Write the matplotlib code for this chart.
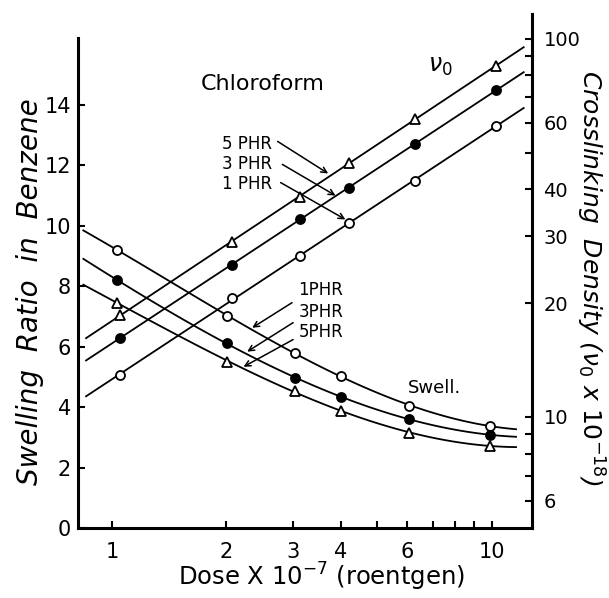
import numpy as np
import matplotlib
matplotlib.use('Agg')
import matplotlib.pyplot as plt
from matplotlib.ticker import NullLocator

# ---- data ----
dose_xl = [1.05, 2.07, 3.12, 4.2, 6.3, 10.3]     # crosslinking points
xl_5phr = [18.6, 29.0, 38.2, 47.0, 61.4, 84.9]  # triangles
xl_3phr = [16.2, 25.2, 33.4, 40.3, 52.7, 73.3]  # filled circles
xl_1phr = [12.9, 20.6, 26.7, 32.6, 42.1, 58.9]  # open circles

dose_sw = [1.03, 2.01, 3.03, 4.0, 6.05, 9.9]     # swelling points
sw_1phr = [9.2, 7.0, 5.8, 5.03, 4.04, 3.38]
sw_3phr = [8.2, 6.1, 4.97, 4.34, 3.61, 3.08]
sw_5phr = [7.45, 5.5, 4.54, 3.87, 3.15, 2.72]

x_ticks = [1, 2, 3, 4, 5, 6, 7, 8, 9, 10]
x_ticklabels = ['1', '2', '3', '4', '', '6', '', '', '', '10']
left_ticks = [0, 2, 4, 6, 8, 10, 12, 14]
right_ticks = [6, 7, 8, 9, 10, 20, 30, 40, 50, 60, 70, 80, 90, 100]
right_ticklabels = ['6', '', '', '', '10', '20', '30', '40', '', '60', '', '', '', '100']

plt.rcParams['font.family'] = 'DejaVu Sans'
fig = plt.figure(figsize=(6.09, 5.98), dpi=100)
ax = fig.add_axes([0.128, 0.117, 0.746, 0.860])
ax2 = ax.twinx()

ax.set_xscale('log')
ax.set_xlim(0.813, 12.8)
ax.set_ylim(0, 17.0)
ax2.set_yscale('log')
ax2.set_ylim(5.085, 116.4)

mk = dict(ms=6.5, mew=1.3, color='k', ls='none', zorder=5)
lw = 1.3

# crosslinking density: straight lines on log-log
xs = np.linspace(0.854, 12.15, 50)
for y, m, fc in [(xl_5phr, '^', 'white'), (xl_3phr, 'o', 'k'), (xl_1phr, 'o', 'white')]:
    p = np.polyfit(np.log10(dose_xl), np.log10(y), 1)
    ax2.plot(xs, 10 ** np.polyval(p, np.log10(xs)), 'k-', lw=lw)
    ax2.plot(dose_xl, y, marker=m, mfc=fc, **mk)

# swelling ratio: smooth curves levelling off at high dose
xs2 = np.logspace(np.log10(0.84), np.log10(11.6), 80)
for y, m, fc in [(sw_1phr, 'o', 'white'), (sw_3phr, 'o', 'k'), (sw_5phr, '^', 'white')]:
    p = np.polyfit(np.log10(dose_sw), y, 3)
    ax.plot(xs2, np.polyval(p, np.log10(xs2)), 'k-', lw=lw)
    ax.plot(dose_sw, y, marker=m, mfc=fc, **mk)

# axes styling
for s in ['top', 'right']:
    ax.spines[s].set_visible(False)
for s in ['top', 'left', 'bottom']:
    ax2.spines[s].set_visible(False)
ax.spines['left'].set_bounds(0, 16.2)
for sp in [ax.spines['left'], ax.spines['bottom'], ax2.spines['right']]:
    sp.set_linewidth(2.2)

ax.set_xticks(x_ticks)
ax.set_xticklabels(x_ticklabels)
ax.xaxis.set_minor_locator(NullLocator())
ax.set_yticks(left_ticks)
ax.tick_params(axis='both', direction='in', length=5, width=1.5, labelsize=15)
ax.tick_params(axis='x', pad=10)
ax.tick_params(axis='y', pad=5)

ax2.set_yticks(right_ticks)
ax2.set_yticklabels(right_ticklabels)
ax2.yaxis.set_minor_locator(NullLocator())
ax2.tick_params(axis='y', direction='in', length=5, width=1.5, labelsize=14, pad=8)

# labels
fig.text(0.049, 0.512, 'Swelling  Ratio  in  Benzene', rotation=90, ha='center', va='center',
         fontsize=20, style='italic')
fig.text(0.969, 0.535, r'Crosslinking  Density ($\nu_0$ x $10^{-18}$)', rotation=270,
         ha='center', va='center', fontsize=18, style='italic')
fig.text(0.528, 0.035, r'Dose X $10^{-7}$ (roentgen)', ha='center', va='center', fontsize=17.5)

ax.text(1.71, 14.67, 'Chloroform', fontsize=16, ha='left', va='center')
ax.text(7.34, 15.26, r'$\nu_0$', fontsize=17, ha='center', va='center')
ax.text(6.0, 4.64, 'Swell.', fontsize=13, ha='left', va='center')

# upper PHR labels with arrows
for lab, ty, tail, head in [('5 PHR', 12.68, (2.73, 12.78), (3.71, 11.72)),
                            ('3 PHR', 12.02, (2.81, 12.02), (3.88, 10.99)),
                            ('1 PHR', 11.36, (2.78, 11.42), (4.12, 10.20))]:
    ax.text(1.95, ty, lab, fontsize=12, ha='left', va='center')
    ax.annotate('', xy=head, xytext=tail,
                arrowprops=dict(arrowstyle='->', color='k', lw=1.1, shrinkA=0, shrinkB=0))

# lower PHR labels with arrows
for lab, ty, tail, head in [('1PHR', 7.88, (2.98, 7.45), (2.34, 6.62)),
                            ('3PHR', 7.15, (3.0, 6.79), (2.27, 5.83)),
                            ('5PHR', 6.49, (3.0, 6.23), (2.22, 5.33))]:
    ax.text(3.10, ty, lab, fontsize=12, ha='left', va='center')
    ax.annotate('', xy=head, xytext=tail,
                arrowprops=dict(arrowstyle='->', color='k', lw=1.1, shrinkA=0, shrinkB=0))

fig.savefig('out.png', dpi=100)
